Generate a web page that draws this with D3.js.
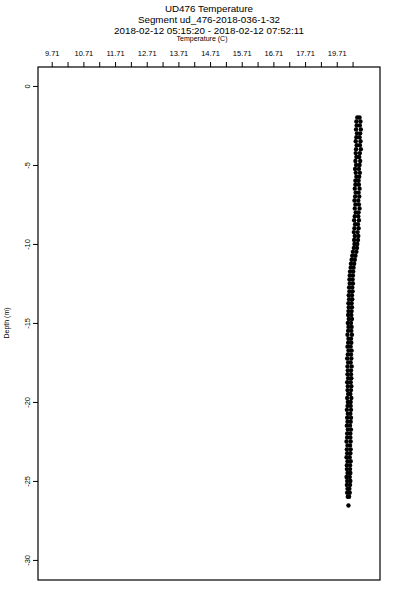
<!DOCTYPE html>
<html>
<head>
<meta charset="utf-8">
<script src="https://cdn.jsdelivr.net/npm/d3@7"></script>
<style>
  body { margin: 0; background: #fff; }
  text { font-family: "Liberation Sans", Arial, sans-serif; fill: #000; }
</style>
</head>
<body>
<div id="chart"></div>
<script>
// titles
var titleLines = ["UD476 Temperature",
                  "Segment ud_476-2018-036-1-32",
                  "2018-02-12 05:15:20 - 2018-02-12 07:52:11"];

// top axis (temperature) ticks and labels, as printed
var tempTicks = [9.71, 10.21, 10.71, 11.21, 11.71, 12.21, 12.71, 13.21, 13.71, 14.21,
                 14.71, 15.21, 15.71, 16.21, 16.71, 17.21, 17.71, 18.21, 18.71, 19.21];
var tempLabelAt = [9.71, 10.71, 11.71, 12.71, 13.71, 14.71, 15.71, 16.71, 17.71, 18.71];
var tempLabels = ["9.71", "10.71", "11.71", "12.71", "13.71", "14.71", "15.71", "16.71", "17.71", "19.71"];

// left axis (depth) ticks
var depthTicks = [0, -5, -10, -15, -20, -25, -30];

// profile samples: depth (m) and two temperature readings per depth
var depth = [-2.00, -2.25, -2.50, -2.75, -3.00, -3.25, -3.50, -3.75, -4.00,
             -4.25, -4.50, -4.75, -5.00, -5.25, -5.50, -5.75, -6.00,
             -6.25, -6.50, -6.75, -7.00, -7.25, -7.50, -7.75, -8.00,
             -8.25, -8.50, -8.75, -9.00, -9.25, -9.50, -9.75, -10.00,
             -10.25, -10.50, -10.75, -11.00, -11.25, -11.50, -11.75, -12.00,
             -12.25, -12.50, -12.75, -13.00, -13.25, -13.50, -13.75, -14.00,
             -14.25, -14.50, -14.75, -15.00, -15.25, -15.50, -15.75, -16.00,
             -16.25, -16.50, -16.75, -17.00, -17.25, -17.50, -17.75, -18.00,
             -18.25, -18.50, -18.75, -19.00, -19.25, -19.50, -19.75, -20.00,
             -20.25, -20.50, -20.75, -21.00, -21.25, -21.50, -21.75, -22.00,
             -22.25, -22.50, -22.75, -23.00, -23.25, -23.50, -23.75, -24.00,
             -24.25, -24.50, -24.75, -25.00, -25.25, -25.50, -25.75, -26.00];

var tempDown = [19.36, 19.33, 19.34, 19.32, 19.35, 19.33, 19.31, 19.34, 19.32,
                19.31, 19.33, 19.30, 19.32, 19.29, 19.31, 19.33, 19.30,
                19.30, 19.28, 19.31, 19.29, 19.27, 19.30, 19.28, 19.31,
                19.28, 19.26, 19.29, 19.27, 19.25, 19.28, 19.26, 19.27,
                19.25, 19.22, 19.20, 19.18, 19.16, 19.15, 19.13, 19.12,
                19.11, 19.12, 19.10, 19.11, 19.09, 19.10, 19.08, 19.09,
                19.08, 19.07, 19.09, 19.06, 19.08, 19.07, 19.05, 19.08,
                19.07, 19.05, 19.08, 19.06, 19.04, 19.07, 19.05, 19.06,
                19.05, 19.07, 19.04, 19.06, 19.05, 19.07, 19.04, 19.06,
                19.05, 19.03, 19.06, 19.04, 19.05, 19.03, 19.06, 19.04,
                19.04, 19.02, 19.05, 19.03, 19.04, 19.02, 19.05, 19.03,
                19.03, 19.05, 19.02, 19.04, 19.03, 19.05, 19.04, 19.06];

var tempUp = [19.43, 19.46, 19.44, 19.47, 19.45, 19.43, 19.46, 19.44, 19.47,
              19.44, 19.42, 19.45, 19.43, 19.41, 19.44, 19.42, 19.40,
              19.41, 19.43, 19.40, 19.42, 19.39, 19.41, 19.43, 19.40,
              19.39, 19.41, 19.38, 19.40, 19.37, 19.39, 19.38, 19.36,
              19.35, 19.33, 19.30, 19.28, 19.26, 19.24, 19.23, 19.22,
              19.21, 19.22, 19.20, 19.21, 19.19, 19.20, 19.18, 19.19,
              19.18, 19.17, 19.19, 19.16, 19.18, 19.17, 19.19, 19.16,
              19.17, 19.15, 19.18, 19.16, 19.17, 19.15, 19.18, 19.16,
              19.16, 19.17, 19.15, 19.17, 19.16, 19.14, 19.17, 19.15,
              19.15, 19.16, 19.14, 19.16, 19.15, 19.13, 19.16, 19.14,
              19.14, 19.15, 19.13, 19.15, 19.14, 19.12, 19.15, 19.13,
              19.13, 19.14, 19.12, 19.14, 19.13, 19.11, 19.12, 19.10];

// the lone deepest sample
var strayDepth = [-26.55];
var strayTemp = [19.08];

// plot box
var box = {left: 38, right: 380, top: 67, bottom: 580};

var svg = d3.select("#chart").append("svg")
    .attr("width", 400)
    .attr("height", 600);

var x = d3.scaleLinear().domain([9.277, 20.076]).range([box.left, box.right]);
var y = d3.scaleLinear().domain([1.2, -31.27]).range([box.top, box.bottom]);

// titles
svg.selectAll(".title")
    .data(titleLines)
  .enter().append("text")
    .attr("class", "title")
    .attr("x", 209)
    .attr("y", function(d, i) { return 11.5 + i * 11; })
    .attr("text-anchor", "middle")
    .style("font-size", "9.8px")
    .text(function(d) { return d; });

svg.append("text")
    .attr("x", 202)
    .attr("y", 41)
    .attr("text-anchor", "middle")
    .style("font-size", "7px")
    .text("Temperature (C)");

svg.append("text")
    .attr("transform", "translate(9,323) rotate(-90)")
    .attr("text-anchor", "middle")
    .style("font-size", "7px")
    .text("Depth (m)");

// top axis
var xAxis = d3.axisTop(x)
    .tickValues(tempTicks)
    .tickSize(5)
    .tickPadding(6)
    .tickFormat(function(d) {
      var i = tempLabelAt.findIndex(function(v) { return Math.abs(v - d) < 1e-6; });
      return i < 0 ? "" : tempLabels[i];
    });

var gx = svg.append("g")
    .attr("transform", "translate(0," + box.top + ")")
    .call(xAxis);
gx.select(".domain").remove();
gx.selectAll("line").attr("stroke", "#000");
gx.selectAll("text").style("font-size", "7.5px").attr("font-family", null);

// left axis
var yAxis = d3.axisLeft(y)
    .tickValues(depthTicks)
    .tickSize(5)
    .tickFormat(function(d) { return d; });

var gy = svg.append("g")
    .attr("transform", "translate(" + box.left + ",0)")
    .call(yAxis);
gy.select(".domain").remove();
gy.selectAll("line").attr("stroke", "#000");
gy.selectAll("text")
    .style("font-size", "7.5px")
    .attr("font-family", null)
    .attr("x", null).attr("dy", null)
    .attr("text-anchor", "middle")
    .attr("transform", "translate(-11,0) rotate(-90)")
    .attr("y", 3);

// frame
svg.append("rect")
    .attr("x", box.left)
    .attr("y", box.top)
    .attr("width", box.right - box.left)
    .attr("height", box.bottom - box.top)
    .attr("fill", "none")
    .attr("stroke", "#000")
    .attr("stroke-width", 1.2);

// points
var pts = [];
depth.forEach(function(d, i) {
  pts.push({depth: d, temp: tempDown[i]});
  pts.push({depth: d, temp: tempUp[i]});
});
strayDepth.forEach(function(d, i) { pts.push({depth: d, temp: strayTemp[i]}); });

svg.append("g").selectAll("circle")
    .data(pts)
  .enter().append("circle")
    .attr("cx", function(d) { return x(d.temp); })
    .attr("cy", function(d) { return y(d.depth); })
    .attr("r", 2.2)
    .attr("fill", "#000");
</script>
</body>
</html>
